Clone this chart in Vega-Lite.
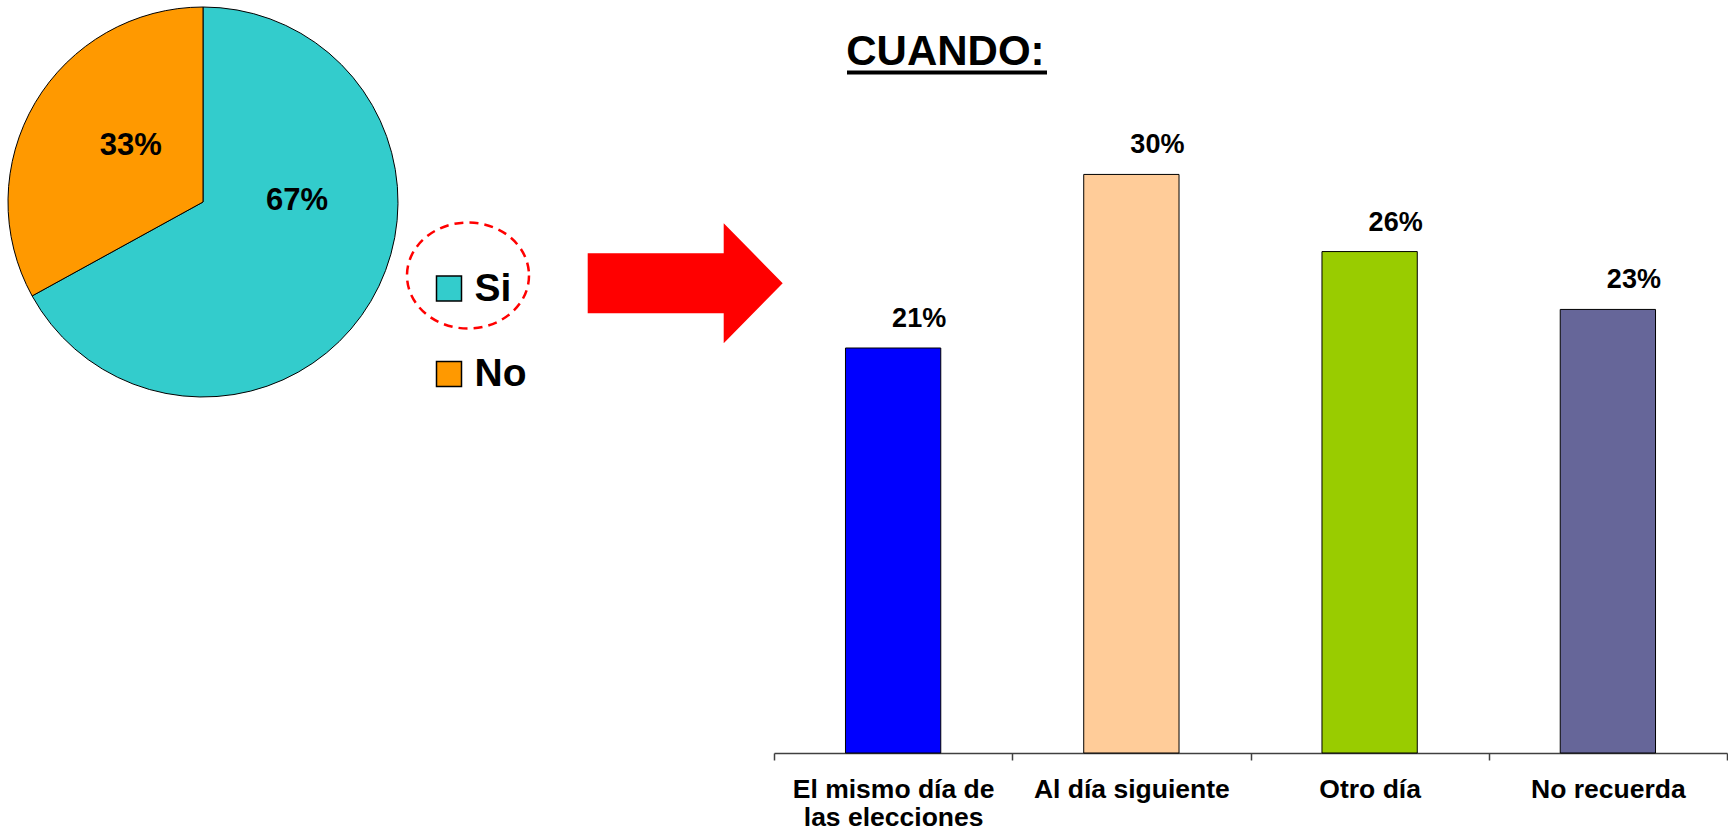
{
  "$schema": "https://vega.github.io/schema/vega-lite/v6.json",
  "background": "white",
  "padding": {"left": 0, "top": 5, "right": 0, "bottom": 0},
  "bounds": "flush",
  "spacing": 368,
  "hconcat": [
    {
      "width": 406,
      "height": 248,
      "data": {"values": [
        {"respuesta": "Si", "valor": 0.67},
        {"respuesta": "No", "valor": 0.33}
      ]},
      "layer": [
        {
          "mark": {"type": "arc", "outerRadius": 195, "stroke": "black", "strokeWidth": 1},
          "encoding": {
            "theta": {"field": "valor", "type": "quantitative", "stack": true},
            "order": {"field": "respuesta", "sort": "descending"},
            "color": {
              "field": "respuesta", "type": "nominal",
              "scale": {"domain": ["Si", "No"], "range": ["#33CCCC", "#FF9900"]},
              "legend": {
                "orient": "none", "legendX": 429.5, "legendY": 191,
                "title": null, "padding": 0,
                "symbolType": "square", "symbolSize": 625,
                "symbolStrokeColor": "black", "symbolStrokeWidth": 1.5, "symbolOpacity": 1,
                "labelFont": "Liberation Sans", "labelFontSize": 39, "labelFontWeight": "bold",
                "labelColor": "black", "labelOffset": 6, "rowPadding": 45.5
              }
            }
          }
        },
        {
          "mark": {"type": "text", "radius": 94, "dx": 13, "dy": -49, "fontSize": 31, "fontWeight": "bold", "font": "Liberation Sans", "color": "black"},
          "encoding": {
            "theta": {"field": "valor", "type": "quantitative", "stack": true},
            "order": {"field": "respuesta", "sort": "descending"},
            "text": {"condition": {"test": "datum.respuesta === 'Si'", "field": "valor", "type": "quantitative", "format": ".0%"}, "value": ""}
          }
        },
        {
          "mark": {"type": "text", "radius": 92, "dx": 7, "dy": -9, "fontSize": 31, "fontWeight": "bold", "font": "Liberation Sans", "color": "black"},
          "encoding": {
            "theta": {"field": "valor", "type": "quantitative", "stack": true},
            "order": {"field": "respuesta", "sort": "descending"},
            "text": {"condition": {"test": "datum.respuesta === 'No'", "field": "valor", "type": "quantitative", "format": ".0%"}, "value": ""}
          }
        },
        {
          "data": {"values": [{}]},
          "mark": {
            "type": "point",
            "shape": "M 1 0 C 1 0.48 0.5523 0.869 0 0.869 C -0.5523 0.869 -1 0.48 -1 0 C -1 -0.48 -0.5523 -0.869 0 -0.869 C 0.5523 -0.869 1 -0.48 1 0 Z",
            "size": 14884, "filled": false, "stroke": "#FF0000", "strokeWidth": 2.5,
            "strokeDash": [9, 6], "opacity": 1
          },
          "encoding": {"x": {"value": 468}, "y": {"value": 197.5}}
        },
        {
          "data": {"values": [{}]},
          "mark": {
            "type": "point",
            "shape": "M -1 -0.3077 L 0.3949 -0.3077 L 0.3949 -0.6154 L 1 0 L 0.3949 0.6154 L 0.3949 0.3077 L -1 0.3077 Z",
            "size": 38025, "filled": true, "fill": "#FF0000", "strokeWidth": 0, "opacity": 1
          },
          "encoding": {"x": {"value": 685.2}, "y": {"value": 205.2}}
        }
      ]
    },
    {
      "width": 953,
      "height": 675,
      "title": {
        "text": "CUANDO:", "anchor": "start", "dx": 73, "offset": -36,
        "baseline": "alphabetic",
        "font": "Liberation Sans", "fontSize": 42, "fontWeight": "bold", "color": "black"
      },
      "data": {"values": [
        {"cuando": "El mismo día de las elecciones", "porcentaje": 0.21},
        {"cuando": "Al día siguiente", "porcentaje": 0.30},
        {"cuando": "Otro día", "porcentaje": 0.26},
        {"cuando": "No recuerda", "porcentaje": 0.23}
      ]},
      "encoding": {
        "x": {
          "field": "cuando", "type": "nominal", "sort": null,
          "scale": {"paddingInner": 0, "paddingOuter": 0},
          "axis": {
            "title": null, "labelAngle": 0, "tickBand": "extent",
            "domainColor": "#404040", "domainWidth": 1.5,
            "tickColor": "#404040", "tickWidth": 1.5, "tickSize": 7,
            "labelPadding": 16, "labelLimit": 400,
            "labelFont": "Liberation Sans", "labelFontSize": 26.5, "labelFontWeight": "bold",
            "labelColor": "black", "labelLineHeight": 28,
            "labelExpr": "datum.value === 'El mismo día de las elecciones' ? ['El mismo día de', 'las elecciones'] : datum.label"
          }
        },
        "y": {
          "field": "porcentaje", "type": "quantitative",
          "scale": {"domain": [0, 0.35]}, "axis": null
        }
      },
      "layer": [
        {
          "mark": {"type": "bar", "width": {"band": 0.4}, "stroke": "black", "strokeWidth": 1},
          "encoding": {
            "fill": {
              "field": "cuando", "type": "nominal", "sort": null,
              "scale": {
                "domain": ["El mismo día de las elecciones", "Al día siguiente", "Otro día", "No recuerda"],
                "range": ["#0000FF", "#FFCC99", "#99CC00", "#666699"]
              },
              "legend": null
            }
          }
        },
        {
          "mark": {"type": "text", "dx": 26, "dy": -21, "baseline": "alphabetic", "align": "center", "font": "Liberation Sans", "fontSize": 27, "fontWeight": "bold", "color": "black"},
          "encoding": {"text": {"field": "porcentaje", "type": "quantitative", "format": ".0%"}}
        },
        {
          "data": {"values": [{}]},
          "mark": {"type": "rule", "color": "black", "strokeWidth": 4},
          "encoding": {
            "x": {"value": 73},
            "x2": {"value": 273},
            "y": {"value": -5.5}
          }
        }
      ]
    }
  ],
  "resolve": {"scale": {"color": "independent"}, "legend": {"color": "independent"}},
  "config": {"view": {"stroke": null}, "font": "Liberation Sans"}
}
